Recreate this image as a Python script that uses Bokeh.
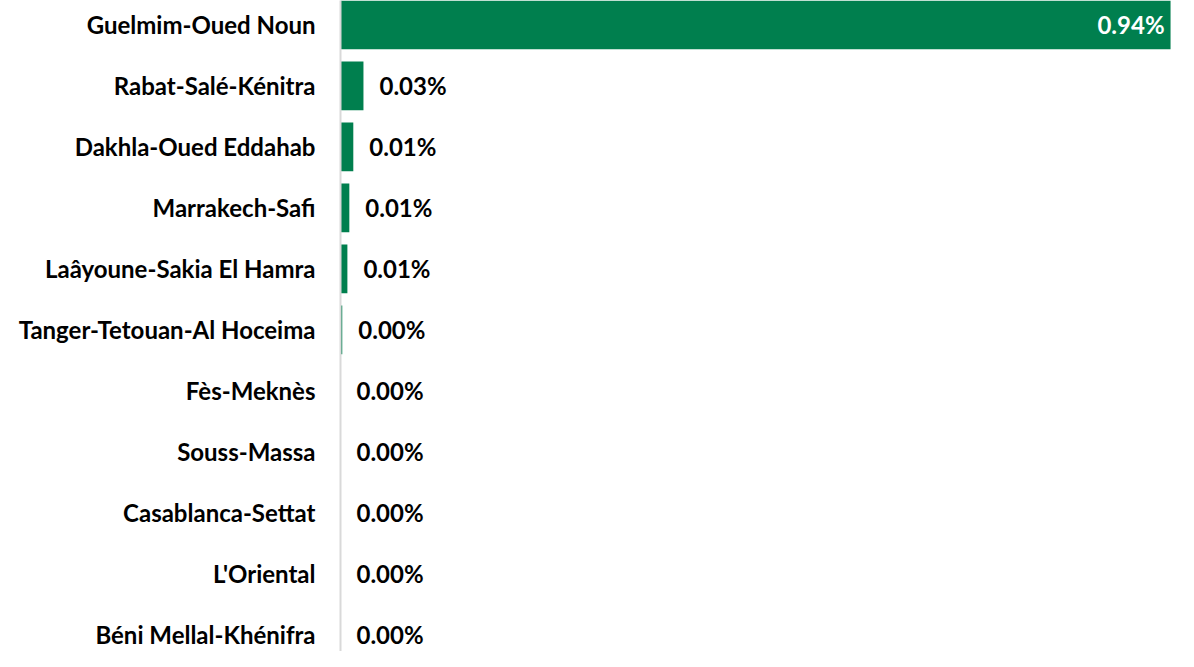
from bokeh.plotting import figure
from bokeh.models import ColumnDataSource, Range1d, FixedTicker
from bokeh.core.properties import value
from bokeh.embed import file_html
from bokeh.resources import INLINE

regions = ["Guelmim-Oued Noun", "Rabat-Salé-Kénitra", "Dakhla-Oued Eddahab",
           "Marrakech-Safi", "Laâyoune-Sakia El Hamra", "Tanger-Tetouan-Al Hoceima",
           "Fès-Meknès", "Souss-Massa", "Casablanca-Settat", "L'Oriental",
           "Béni Mellal-Khénifra"]
shares = [0.94, 0.026, 0.0145, 0.010, 0.0078, 0.002, 0.0, 0.0, 0.0, 0.0, 0.0]

FONT = "Lato"
GREEN = "#007f4e"

pos = list(range(len(regions)))
texts = ["%.2f%%" % v for v in shares]

src_out = ColumnDataSource(dict(y=pos[1:], x=shares[1:], t=texts[1:]))
src_in = ColumnDataSource(dict(y=pos[:1], x=shares[:1], t=texts[:1]))
src = ColumnDataSource(dict(y=pos, x=shares))

p = figure(width=1178, height=651, output_backend="svg", toolbar_location=None,
           x_range=Range1d(0, 0.949), y_range=Range1d(10.272, -0.4),
           min_border_left=340, min_border_right=0, min_border_top=0, min_border_bottom=0)

p.hbar(y="y", left=0, right="x", height=0.8, source=src, color=GREEN, line_color=None)

p.text(x="x", y="y", text="t", source=src_out, x_offset=16,
       text_font=value(FONT), text_font_style="bold", text_font_size="24px",
       text_align="left", text_baseline="middle", text_color="black")
p.text(x="x", y="y", text="t", source=src_in, x_offset=-6,
       text_font=value(FONT), text_font_style="bold", text_font_size="24px",
       text_align="right", text_baseline="middle", text_color="white")

p.xaxis.visible = False
p.xgrid.visible = False
p.ygrid.visible = False
p.outline_line_color = None

ya = p.yaxis[0]
ya.ticker = FixedTicker(ticks=pos)
ya.major_label_overrides = {i: r for i, r in enumerate(regions)}
ya.major_tick_line_color = None
ya.minor_tick_line_color = None
ya.major_tick_out = 0
ya.major_tick_in = 0
ya.major_label_standoff = 25
ya.axis_line_color = "#d9d9d9"
ya.axis_line_width = 2
ya.major_label_text_font = FONT
ya.major_label_text_font_style = "bold"
ya.major_label_text_font_size = "24px"
ya.major_label_text_color = "black"

open("out.html", "w").write(file_html(p, INLINE))
